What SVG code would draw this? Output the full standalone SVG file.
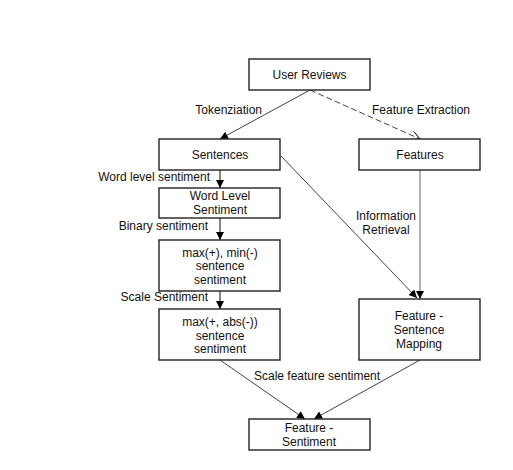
<svg xmlns="http://www.w3.org/2000/svg" width="513" height="470" viewBox="0 0 513 470">
<defs>
<style>
.box{fill:#fff;stroke:#222;stroke-width:1.4}
.t{font-family:"Liberation Sans",Arial,sans-serif;font-size:12px;fill:#111;text-anchor:middle}
.l{font-family:"Liberation Sans",Arial,sans-serif;font-size:12px;fill:#111}
.c{fill:none;stroke:#111;stroke-width:0.8}
.v{fill:none;stroke:#333;stroke-width:1.2}
</style>
<marker id="ah" viewBox="0 0 10 10" refX="10" refY="5" markerWidth="9" markerHeight="8" markerUnits="userSpaceOnUse" orient="auto">
<path d="M0,0 L10,5 L0,10 Z" fill="#000"/>
</marker>
<marker id="ao" viewBox="0 0 10 10" refX="10" refY="5" markerWidth="10" markerHeight="9" markerUnits="userSpaceOnUse" orient="auto">
<path d="M0,0 L10,5 L0,10" fill="none" stroke="#111" stroke-width="1"/>
</marker>
</defs>
<rect width="513" height="470" fill="#fff"/>
<g id="connectors">
<line class="c" x1="310" y1="90" x2="220" y2="139" marker-end="url(#ah)"/>
<line class="c" x1="310" y1="90" x2="420" y2="139" stroke-dasharray="6,3" marker-end="url(#ao)"/>
<line class="c" x1="281" y1="156" x2="417" y2="298" marker-end="url(#ah)"/>
<line x1="420" y1="170" x2="420" y2="299" stroke="#808080" stroke-width="1.2" marker-end="url(#ah)"/>
<line class="v" x1="220" y1="170" x2="220" y2="188" marker-end="url(#ah)"/>
<line class="v" x1="220" y1="218" x2="220" y2="240" marker-end="url(#ah)"/>
<line class="v" x1="220" y1="291" x2="220" y2="309" marker-end="url(#ah)"/>
<line class="c" x1="220" y1="360" x2="305" y2="419" marker-end="url(#ah)"/>
<line class="c" x1="420" y1="360" x2="314" y2="419" marker-end="url(#ah)"/>
<text class="l" x="262" y="114" text-anchor="end">Tokenziation</text>
<text class="l" x="372" y="114">Feature Extraction</text>
<text class="l" x="210" y="181" text-anchor="end">Word level sentiment</text>
<text class="l" x="208" y="230" text-anchor="end">Binary sentiment</text>
<text class="l" x="208" y="301" text-anchor="end">Scale Sentiment</text>
<text class="l" x="386" y="220" text-anchor="middle">Information</text>
<text class="l" x="386" y="233.5" text-anchor="middle">Retrieval</text>
<text class="l" x="254" y="380">Scale feature sentiment</text>
</g>
<g id="user-reviews">
<rect class="box" x="249" y="59" width="121" height="31"/>
<text class="t" x="309.5" y="79">User Reviews</text>
</g>
<g id="sentences">
<rect class="box" x="159" y="139" width="121" height="31"/>
<text class="t" x="220" y="159">Sentences</text>
</g>
<g id="features">
<rect class="box" x="359" y="139" width="121" height="31"/>
<text class="t" x="420" y="159">Features</text>
</g>
<g id="word-level-sentiment">
<rect class="box" x="159" y="188" width="121" height="30"/>
<text class="t" x="220" y="200">Word Level</text>
<text class="t" x="220" y="214">Sentiment</text>
</g>
<g id="max-min">
<rect class="box" x="159" y="240" width="121" height="51"/>
<text class="t" x="220" y="257">max(+), min(-)</text>
<text class="t" x="220" y="270">sentence</text>
<text class="t" x="220" y="283.5">sentiment</text>
</g>
<g id="max-abs">
<rect class="box" x="159" y="309" width="121" height="51"/>
<text class="t" x="220" y="326">max(+, abs(-))</text>
<text class="t" x="220" y="339.5">sentence</text>
<text class="t" x="220" y="352.5">sentiment</text>
</g>
<g id="feature-sentence-mapping">
<rect class="box" x="359" y="299" width="121" height="61"/>
<text class="t" x="419" y="320">Feature -</text>
<text class="t" x="419" y="334">Sentence</text>
<text class="t" x="419" y="347.5">Mapping</text>
</g>
<g id="feature-sentiment">
<rect class="box" x="249" y="419" width="121" height="31"/>
<text class="t" x="309" y="432">Feature -</text>
<text class="t" x="309" y="445.5">Sentiment</text>
</g>
</svg>
